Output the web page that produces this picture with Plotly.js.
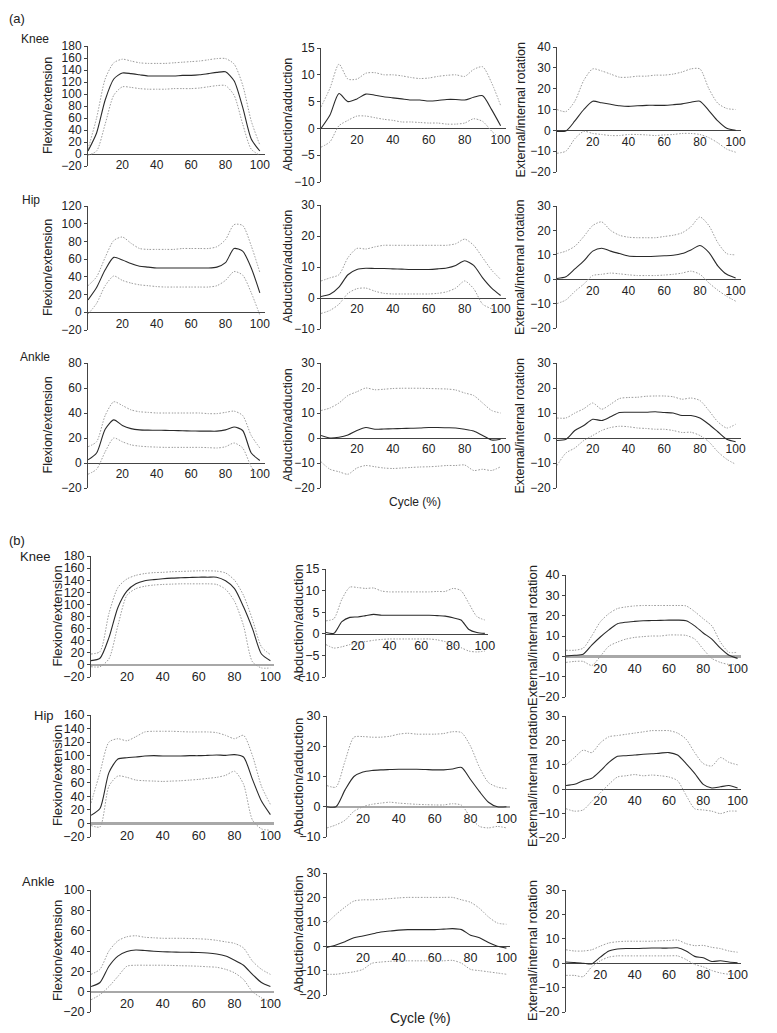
<!DOCTYPE html>
<html><head><meta charset="utf-8">
<script src="https://cdn.plot.ly/plotly-3.0.1.min.js"></script>
<style>html,body{margin:0;padding:0;background:#fff}#chart{width:777px;height:1033px}</style>
</head><body><div id="chart"></div><script>
// Cycle (%) sample points
const X = [0,5,10,15,20,25,30,35,40,45,50,55,60,65,70,75,80,85,90,95,100];
const xTicks = [20,40,60,80,100];

// ---------- (a) ----------
const kneeFlexA_mean = [5,35,90,125,135,134,132,130,130,130,130,131,131,132,134,136,137,122,78,25,5];
const kneeFlexA_up   = [8,60,125,152,158,155,152,151,151,151,152,153,154,155,157,159,159,150,115,55,15];
const kneeFlexA_lo   = [-2,5,50,98,112,111,109,108,108,108,109,109,109,110,112,114,114,98,50,8,-2];

const kneeAbdA_mean = [0,2.5,6.5,5.0,5.5,6.4,6.2,5.9,5.7,5.5,5.3,5.3,5.1,5.2,5.4,5.4,5.3,5.8,6.1,3.5,0.5];
const kneeAbdA_up   = [4,7.5,12,9.2,9.2,10.3,10.4,10,10,9.8,9.5,9.3,9.4,9.7,9.9,10,9.7,11,11.5,8.5,4.3];
const kneeAbdA_lo   = [-3.5,-2.5,0.5,1.5,2.3,2.3,2,1.7,1.5,1.2,1.2,1.1,1.0,1.0,0.8,0.8,1.0,1.8,1.3,-0.5,-2];

const kneeRotA_mean = [-0.5,-0.3,4.5,10,14,13.2,12.5,11.8,11.5,11.8,12,12,12,12.3,12.7,13.5,14,9.5,4.5,1,0];
const kneeRotA_up   = [10,9,14,24,29.5,28.5,27,25.5,25.5,26,26,26.5,26.5,27,28,29.5,29.5,20,13,10.5,10];
const kneeRotA_lo   = [-11,-10,-4,-0.5,-1.5,-2,-2.5,-2.5,-2,-2,-2.2,-2.5,-2.2,-2,-1.5,-1.5,-2,-3.5,-6,-9,-10.5];

const hipFlexA_mean = [14,28,48,62,59,55,52,51,50,50,50,50,50,50,50,51,56,72,69,50,22];
const hipFlexA_up   = [30,40,62,81,85,78,72,71,71,71,71,72,72,72,72,74,82,99,98,75,45];
const hipFlexA_lo   = [-2,10,30,41,36,33,31,30,29,28.5,28.5,28.5,28.5,28.5,28.5,30,36,46,42,22,-3];

const hipAbdA_mean = [0.5,1.2,3.5,7.5,9.2,9.6,9.5,9.5,9.4,9.3,9.2,9.2,9.2,9.4,9.7,10.5,12,10.5,6.5,3.2,0.8];
const hipAbdA_up   = [5.5,6.5,7.5,13,16,15.8,16.5,17,17,17,17,17,17,17,17,17.5,19,17,13,9,6];
const hipAbdA_lo   = [-5,-4,-2,1.5,3,3.2,2.2,1.5,1.3,1.3,1.3,1.3,1.3,1.5,2,3.2,5.5,3,-2,-3.5,-5];

const hipRotA_mean = [0.3,1,4.2,7.5,11.5,12.7,11.5,10.5,9.5,9.3,9.3,9.4,9.6,9.8,10.5,12,13.8,11,5.5,2,0.5];
const hipRotA_up   = [10.5,11.5,13.5,17.5,22,23.5,20,18,17.2,17,17,17,17.5,18,19,21.5,25.5,22,15,10.5,10];
const hipRotA_lo   = [-10,-8.5,-5,-2,1.5,2,2.5,2.2,1.8,1.5,1.5,1.5,1.7,2,2.5,3.3,2,-1.5,-4.5,-7,-9];

const ankleFlexA_mean = [2.5,8,27,34.5,30,27.5,26.5,26.3,26.2,26.1,26,25.8,25.6,25.5,25.5,25.5,26.5,28.8,26,8,2];
const ankleFlexA_up   = [13,17,38,49,46,42.5,41,40.5,40,40,40,40,40,40,39.5,39.5,40.5,41.5,38,22,12];
const ankleFlexA_lo   = [-9,-5,9,20,17,14.5,13.5,13,12.7,12.5,12.5,12.5,12.5,12.5,12.3,12,13,16,12,-3,-12];

const ankleAbdA_mean = [1,0,0.3,1.2,3,4.2,3.5,3.6,3.7,3.8,3.9,4,4.2,4.2,4.1,4,3.5,2.8,1,-0.8,-0.5];
const ankleAbdA_up   = [11,12,14,17,18.5,20,19.3,19.5,19.8,19.9,19.9,19.9,19.8,19.7,19.6,19.2,18,17,14,11,10];
const ankleAbdA_lo   = [-9.5,-12.5,-13.5,-14.5,-12,-11,-11.5,-12,-12.2,-12,-11.8,-11.6,-11.5,-11.3,-11,-11,-10.8,-13,-12.5,-13,-11.5];

const ankleRotA_mean = [-1,-0.5,3,5,7.5,7,8.5,10.2,10.3,10.3,10.3,10.5,10.2,10,9,9,8,5.5,2.5,-0.5,-1.5];
const ankleRotA_up   = [8,8,10,11.7,14,11.5,13.5,15.8,16.2,16.3,16.7,16.8,16.8,16.5,15.5,16,15,11,6.5,4,5.5];
const ankleRotA_lo   = [-11,-6,-4,-1,1,3,4.2,4.7,4.5,4,3.8,3.5,3.5,3,2.2,2.3,1,-1.5,-5.5,-8.5,-10.5];

// ---------- (b) ----------
const kneeFlexB_mean = [7,11,45,95,122,134,139,141,142.5,143.5,144,144.5,145,145,145,139,126,96,60,18,7];
const kneeFlexB_up   = [18,22,85,128,142,148,151,152.5,153,154,154.5,155,155.5,155.5,155,152,140,115,75,30,17];
const kneeFlexB_lo   = [-3,-3,10,65,115,126,130,132,133,133.5,134,134,134,134,133,125,105,65,5,-5,-5];

const kneeAbdB_mean = [0.3,0.1,2.8,3.8,3.9,4.2,4.5,4.3,4.3,4.3,4.3,4.3,4.3,4.3,4.2,4.1,3.7,3.2,1,0.3,0.1];
const kneeAbdB_up   = [3,3.5,8,10.8,10.7,10.5,10.6,9.9,9.7,9.7,9.7,9.7,9.7,9.7,9.8,9.8,10.5,10,7,4,3.2];
const kneeAbdB_lo   = [-2.5,-3.3,-3,-2.5,-2,-1.8,-1.5,-1.3,-1.2,-1.2,-1.2,-1.2,-1.2,-1.2,-1.4,-1.8,-2.3,-3.2,-4,-4.2,-4];

const kneeRotB_mean = [0.2,0.5,1,5.5,9.5,13,16,16.8,17.2,17.5,17.6,17.7,17.8,17.8,17.5,15,11.5,8.5,4,0.5,-1];
const kneeRotB_up   = [3,3,4,10,17,21,23.5,24.3,24.8,25,25,25,25,25,24.8,22,18.5,15,7,2,2];
const kneeRotB_lo   = [-3,-2.5,-2.5,-4.5,0,5,7,8.5,9.3,9.7,10,10,10.5,10.5,10.3,8.5,3.5,-1,-3,-4,-4];

const hipFlexB_mean = [12,22,75,95,97,98,99.5,100,99.5,99.5,99.5,100,100,100.5,101,100.5,101.5,98,65,33,13];
const hipFlexB_up   = [30,75,120,125,122,128,135,136,136,136,135.5,135,135,135,134,130,125,130,100,55,28];
const hipFlexB_lo   = [-3,-5,55,70,68,64,63,62.5,62,62.5,63,64,65,66.5,68,71,77,58,5,-8,-10];

const hipAbdB_mean = [0,0,5.5,10,11.5,12,12.2,12.3,12.4,12.4,12.4,12.3,12.2,12.2,12.5,13,9,5,1.5,0,0];
const hipAbdB_up   = [7,6.5,15,23,23.2,23,23,23.3,24,24.3,24,24,24,24.2,24.8,24.5,20,13,8,6.5,6];
const hipAbdB_lo   = [-7,-6,-4.5,-1.5,0,0.8,1.2,1.5,1.2,1,0.8,0.7,0.6,0.6,1,0.5,-3.5,-6.5,-7,-6.5,-7];

const hipRotB_mean = [1.5,2,3.5,4.5,7.5,11,13.5,13.7,14,14.3,14.5,14.8,15,14,10.5,6.5,2,0.5,1,1.5,0.5];
const hipRotB_up   = [10,13,16,15,19,21.5,22,22.5,23,23.5,24,24,24,23,20.5,15,10.5,9.5,13,11,10];
const hipRotB_lo   = [-8,-9,-8.5,-5,-1.5,2,5,5.5,6,5.5,5.8,5.5,5,3.5,-2.5,-8,-8.5,-9,-10,-9,-9];

const ankleFlexB_mean = [5,9,25,35,39.5,41,40.5,39.8,39.3,39,38.8,38.7,38.5,38,37,35,31,26,17,9,5];
const ankleFlexB_up   = [17,22,40,50,54,55,53.5,53,52.5,52.5,52.5,52.3,52,51.5,50.5,49,47.5,43,30,22,17];
const ankleFlexB_lo   = [-8,-3,5,15,25,26,26,26,26,25.8,25.5,25.3,25,24.5,24,22,18.5,12,0,-6,-10];

const ankleAbdB_mean = [-0.5,0.5,1.8,3.5,4.2,5,5.8,6.2,6.6,6.8,6.8,6.8,6.8,7,7.2,6.8,4.5,3.5,1.5,0,-0.8];
const ankleAbdB_up   = [9.5,13,16,18.5,19,19,19.2,19.5,19.8,20,20,20,20,20,20,19,18,15.5,12,9.5,9];
const ankleAbdB_lo   = [-11.5,-11.5,-11,-10.5,-9.5,-7,-6.5,-6.2,-6,-6,-6,-6,-6,-6,-5.8,-7,-9.5,-10,-10.5,-11,-11.5];

const ankleRotB_mean = [0.5,0.3,0,-0.3,2.5,5,5.8,6,6,6.1,6.2,6.2,6.2,6.3,5,2.8,2.2,0.7,1,0.5,0.2];
const ankleRotB_up   = [5.5,5,5,5.5,7,8.3,8.8,9,9,9,9,9.2,9.3,9.5,8,7.2,7.3,6.5,6,5,4.5];
const ankleRotB_lo   = [-5,-5,-5.5,-1.5,1,2.5,3,3,3,3,3,3,3,3,1.5,-0.5,-1.5,-3,-4,-4.5,-4];

// ---------- layout config (pixel boxes) ----------
const W = 777, H = 1033;
const T_FLEX = 'Flexion/extension', T_ABD = 'Abduction/adduction', T_ROT = 'External/internal rotation';
const panels = [
  {m:kneeFlexA_mean,u:kneeFlexA_up,l:kneeFlexA_lo,x0:88,x1:265,top:46,bot:166,r:[-20,180],dt:20,t:T_FLEX,tx:48,b:false},
  {m:kneeAbdA_mean,u:kneeAbdA_up,l:kneeAbdA_lo,x0:321,x1:506,top:48,bot:182,r:[-10,15],dt:5,t:T_ABD,tx:288,b:false},
  {m:kneeRotA_mean,u:kneeRotA_up,l:kneeRotA_lo,x0:557,x1:741,top:47,bot:172,r:[-20,40],dt:10,t:T_ROT,tx:520,b:false},
  {m:hipFlexA_mean,u:hipFlexA_up,l:hipFlexA_lo,x0:88,x1:265,top:206,bot:330,r:[-20,120],dt:20,t:T_FLEX,tx:48,b:false},
  {m:hipAbdA_mean,u:hipAbdA_up,l:hipAbdA_lo,x0:321,x1:506,top:205,bot:329,r:[-10,30],dt:10,t:T_ABD,tx:288,b:false},
  {m:hipRotA_mean,u:hipRotA_up,l:hipRotA_lo,x0:557,x1:741,top:206,bot:328,r:[-20,30],dt:10,t:T_ROT,tx:520,b:false},
  {m:ankleFlexA_mean,u:ankleFlexA_up,l:ankleFlexA_lo,x0:88,x1:265,top:363,bot:488,r:[-20,80],dt:20,t:T_FLEX,tx:48,b:false},
  {m:ankleAbdA_mean,u:ankleAbdA_up,l:ankleAbdA_lo,x0:321,x1:506,top:363,bot:488,r:[-20,30],dt:10,t:T_ABD,tx:288,b:false},
  {m:ankleRotA_mean,u:ankleRotA_up,l:ankleRotA_lo,x0:557,x1:741,top:363,bot:488,r:[-20,30],dt:10,t:T_ROT,tx:520,b:false},

  {m:kneeFlexB_mean,u:kneeFlexB_up,l:kneeFlexB_lo,x0:91,x1:274,top:556,bot:677,r:[-20,180],dt:20,t:T_FLEX,tx:57,b:true,thick:true},
  {m:kneeAbdB_mean,u:kneeAbdB_up,l:kneeAbdB_lo,x0:326,x1:488,top:569,bot:677,r:[-10,15],dt:5,t:T_ABD,tx:298,b:true},
  {m:kneeRotB_mean,u:kneeRotB_up,l:kneeRotB_lo,x0:566,x1:741,top:575,bot:697,r:[-20,40],dt:10,t:T_ROT,tx:532,b:true,thick:true},
  {m:hipFlexB_mean,u:hipFlexB_up,l:hipFlexB_lo,x0:91,x1:274,top:715,bot:837,r:[-20,160],dt:20,t:T_FLEX,tx:57,b:true,thick:true},
  {m:hipAbdB_mean,u:hipAbdB_up,l:hipAbdB_lo,x0:327,x1:510,top:716,bot:837,r:[-10,30],dt:10,t:T_ABD,tx:298,b:true,thick:true},
  {m:hipRotB_mean,u:hipRotB_up,l:hipRotB_lo,x0:566,x1:741,top:716,bot:838,r:[-20,30],dt:10,t:T_ROT,tx:532,b:true},
  {m:ankleFlexB_mean,u:ankleFlexB_up,l:ankleFlexB_lo,x0:91,x1:274,top:890,bot:1012,r:[-20,100],dt:20,t:T_FLEX,tx:57,b:true,thick:true},
  {m:ankleAbdB_mean,u:ankleAbdB_up,l:ankleAbdB_lo,x0:327,x1:510,top:873,bot:995,r:[-20,30],dt:10,t:T_ABD,tx:298,b:true},
  {m:ankleRotB_mean,u:ankleRotB_up,l:ankleRotB_lo,x0:566,x1:741,top:890,bot:1012,r:[-20,30],dt:10,t:T_ROT,tx:532,b:true}
];

const FA = 'Liberation Sans, Arial, sans-serif';
const FB = '"Liberation Sans Narrow", "Arial Narrow", "Liberation Sans", sans-serif';
const INK = '#222';

const data = [];
const layout = {
  width: W, height: H, margin: {l:0, r:0, t:0, b:0},
  paper_bgcolor: '#fff', plot_bgcolor: 'rgba(0,0,0,0)',
  showlegend: false, annotations: []
};

panels.forEach((p, i) => {
  const k = i + 1;
  const xa = k === 1 ? 'x' : 'x' + k, ya = k === 1 ? 'y' : 'y' + k;
  const xk = k === 1 ? 'xaxis' : 'xaxis' + k, yk = k === 1 ? 'yaxis' : 'yaxis' + k;
  const xMax = p.b ? 102 : 103;
  const dom = [1 - p.bot / H, 1 - p.top / H];
  const zeroPos = dom[0] + (0 - p.r[0]) / (p.r[1] - p.r[0]) * (dom[1] - dom[0]);
  const tf = p.b ? {family: FB, size: 12.5, color: INK} : {family: FA, size: 12, color: INK};
  const dotted = {color: '#9c9c9c', width: 1, dash: '1.5px,1.5px', shape: 'spline', smoothing: 0.7};
  data.push({x: X, y: p.l, xaxis: xa, yaxis: ya, mode: 'lines', line: dotted, hoverinfo: 'skip'});
  data.push({x: X, y: p.u, xaxis: xa, yaxis: ya, mode: 'lines', line: dotted, hoverinfo: 'skip'});
  data.push({x: X, y: p.m, xaxis: xa, yaxis: ya, mode: 'lines',
             line: {color: '#2a2a2a', width: 1.1, shape: 'spline', smoothing: 0.7}, hoverinfo: 'skip'});
  const eps = (p.r[1] - p.r[0]) * 1e-5;
  layout[xk] = {
    domain: [p.x0 / W, p.x1 / W], range: [0, xMax], anchor: 'free', position: zeroPos,
    showline: true, linecolor: p.thick ? '#a8a8a8' : '#444', linewidth: p.thick ? 2.5 : 1,
    showgrid: false, zeroline: false, ticks: '', tickmode: 'array', tickvals: xTicks,
    tickfont: tf, fixedrange: true, layer: 'below traces'
  };
  layout[yk] = {
    domain: dom, range: [p.r[0] - eps, p.r[1] + eps], anchor: xa,
    showline: true, linecolor: '#444', linewidth: 1, showgrid: false, zeroline: false,
    ticks: 'outside', ticklen: 3, tickcolor: '#444', tickmode: 'linear', tick0: p.r[0], dtick: p.dt,
    tickfont: tf, fixedrange: true
  };
  layout.annotations.push({
    text: p.t, xref: 'paper', yref: 'paper', x: p.tx / W, y: 1 - (p.top + p.bot) / 2 / H,
    textangle: -90, showarrow: false, xanchor: 'center', yanchor: 'middle',
    font: p.b ? {family: FB, size: 13, color: INK} : {family: FA, size: 12.5, color: INK}
  });
});

// Figure labels
const labels = [
  {t:'(a)', x:17, y:19, f:{family:FA, size:13, color:INK}},
  {t:'Knee', x:35, y:39, f:{family:FA, size:12, color:INK}},
  {t:'Hip', x:31, y:200, f:{family:FA, size:12, color:INK}},
  {t:'Ankle', x:35, y:357, f:{family:FA, size:12, color:INK}},
  {t:'Cycle (%)', x:415, y:502, f:{family:FA, size:12, color:INK}},
  {t:'(b)', x:17, y:540, f:{family:FA, size:13, color:INK}},
  {t:'Knee', x:35, y:556, f:{family:FB, size:13, color:INK}},
  {t:'Hip', x:44, y:715, f:{family:FB, size:13, color:INK}},
  {t:'Ankle', x:38, y:881, f:{family:FB, size:13, color:INK}},
  {t:'Cycle (%)', x:420, y:1018, f:{family:FB, size:14, color:INK}}
];
labels.forEach(a => layout.annotations.push({
  text: a.t, xref: 'paper', yref: 'paper', x: a.x / W, y: 1 - a.y / H,
  showarrow: false, xanchor: 'center', yanchor: 'middle', font: a.f
}));

Plotly.newPlot('chart', data, layout, {staticPlot: true, displayModeBar: false});
</script></body></html>
